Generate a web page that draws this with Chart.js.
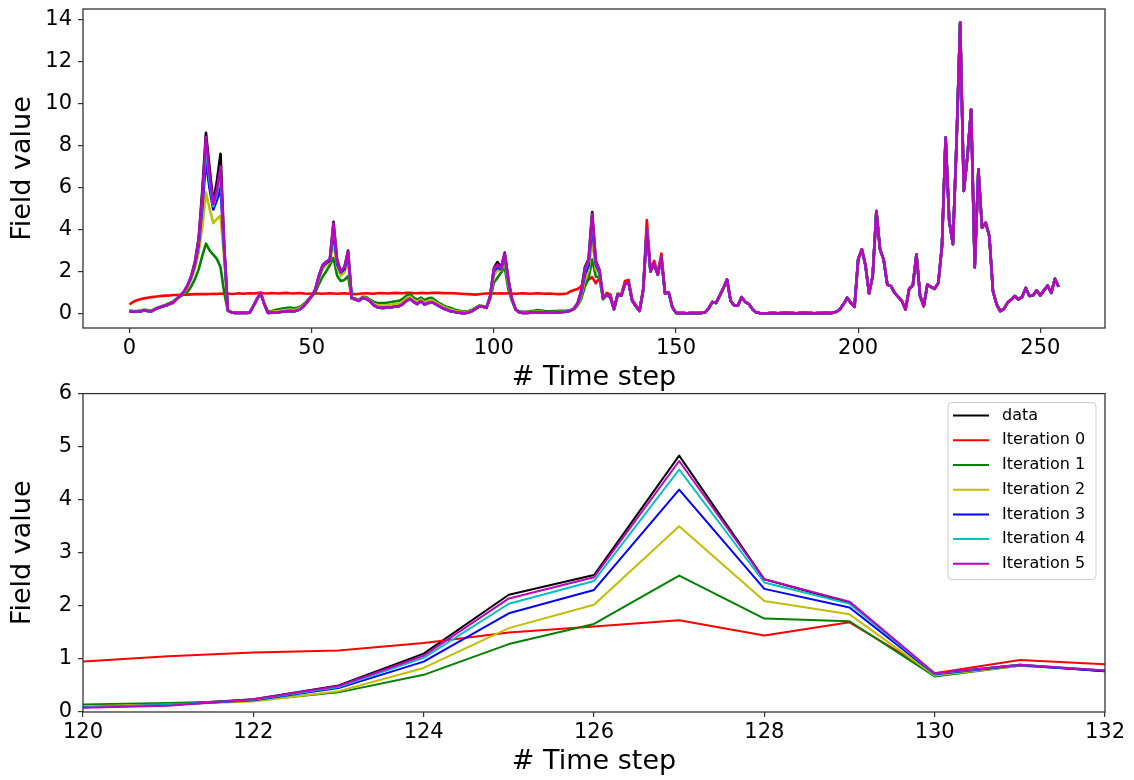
<!DOCTYPE html>
<html><head><meta charset="utf-8">
<script src="https://cdn.jsdelivr.net/npm/chart.js@4.4.1/dist/chart.umd.min.js"></script>
<style>
html,body{margin:0;padding:0;background:#fff;}
#wrap{position:relative;width:1134px;height:780px;overflow:hidden;background:#fff;}
#c1{position:absolute;left:0;top:-10px;}
#c2{position:absolute;left:0;top:375px;}
</style></head><body>
<div id="wrap"><canvas id="c1" width="1134" height="405"></canvas><canvas id="c2" width="1134" height="405"></canvas></div>
<script>
// ---- data: time steps 0..119 (per series) ----
const dataHead = [
0.10,0.08,0.08,0.10,0.15,0.12,0.10,0.20,0.27,0.33,
0.38,0.45,0.52,0.70,0.85,1.05,1.35,1.80,2.50,3.60,
5.90,8.60,6.90,5.30,6.30,7.60,3.30,0.15,0.05,0.03,
0.03,0.03,0.03,0.04,0.35,0.68,0.98,0.45,0.03,0.04,
0.05,0.06,0.08,0.10,0.12,0.10,0.14,0.22,0.38,0.59,
0.83,1.14,1.80,2.30,2.46,2.57,4.36,2.55,2.00,2.20,
3.00,0.74,0.67,0.60,0.75,0.70,0.59,0.40,0.30,0.27,
0.27,0.29,0.30,0.33,0.35,0.45,0.60,0.70,0.55,0.45,
0.59,0.43,0.50,0.54,0.45,0.35,0.25,0.19,0.11,0.08,
0.05,0.03,0.01,0.05,0.11,0.22,0.35,0.32,0.27,0.83,
2.15,2.45,2.20,2.90,1.62,0.67,0.19,0.05,0.03,0.03,
0.04,0.05,0.06,0.05,0.04,0.04,0.05,0.05,0.06,0.07];
const iter0Head = [
0.43,0.55,0.63,0.68,0.72,0.75,0.78,0.80,0.82,0.84,
0.85,0.86,0.88,0.88,0.89,0.90,0.90,0.91,0.92,0.92,
0.93,0.92,0.93,0.94,0.93,0.95,0.94,0.95,0.93,0.94,
0.96,0.94,0.95,0.96,0.95,0.97,0.98,0.96,0.95,0.97,
0.96,0.95,0.97,0.98,0.96,0.95,0.96,0.97,0.95,0.94,
0.95,0.96,0.95,0.94,0.95,0.96,0.95,0.94,0.95,0.96,
0.95,0.93,0.92,0.94,0.95,0.96,0.95,0.94,0.96,0.97,
0.96,0.95,0.97,0.98,0.97,0.96,0.98,0.99,0.97,0.96,
0.98,0.97,0.96,0.98,0.99,0.98,0.97,0.96,0.97,0.96,
0.95,0.94,0.93,0.92,0.91,0.90,0.92,0.94,0.95,0.96,
0.96,0.95,0.96,0.95,0.96,0.95,0.94,0.95,0.96,0.95,
0.94,0.95,0.96,0.95,0.94,0.95,0.94,0.93,0.92,0.93];
const iter1Head = [
0.14,0.12,0.12,0.14,0.18,0.17,0.14,0.22,0.30,0.36,
0.42,0.50,0.58,0.72,0.82,0.92,1.05,1.30,1.65,2.10,
2.75,3.33,3.00,2.80,2.60,2.20,1.00,0.12,0.07,0.05,
0.05,0.05,0.05,0.06,0.36,0.68,0.98,0.48,0.10,0.12,
0.16,0.20,0.24,0.26,0.28,0.25,0.27,0.33,0.47,0.66,
0.80,1.00,1.40,1.75,2.00,2.30,2.65,1.80,1.55,1.60,
1.78,0.70,0.72,0.66,0.80,0.78,0.66,0.56,0.50,0.50,
0.50,0.52,0.55,0.58,0.60,0.70,0.85,0.92,0.76,0.66,
0.76,0.64,0.72,0.75,0.62,0.50,0.40,0.32,0.27,0.20,
0.15,0.12,0.10,0.12,0.18,0.28,0.38,0.36,0.33,0.67,
1.46,1.70,1.95,2.19,1.14,0.59,0.20,0.10,0.08,0.08,
0.10,0.13,0.16,0.14,0.12,0.11,0.12,0.12,0.13,0.13];
const iter2Head = [
0.11,0.10,0.10,0.12,0.16,0.14,0.12,0.21,0.28,0.34,
0.40,0.47,0.55,0.72,0.85,1.00,1.25,1.65,2.15,2.90,
4.10,5.75,5.00,4.30,4.50,4.65,2.60,0.14,0.06,0.04,
0.04,0.04,0.04,0.05,0.35,0.68,0.98,0.46,0.06,0.08,
0.10,0.12,0.15,0.17,0.19,0.17,0.20,0.27,0.42,0.62,
0.84,1.10,1.65,2.10,2.30,2.45,3.40,2.20,1.80,1.95,
2.45,0.72,0.69,0.63,0.78,0.74,0.62,0.47,0.40,0.38,
0.38,0.40,0.42,0.45,0.47,0.57,0.72,0.80,0.65,0.55,
0.67,0.53,0.60,0.64,0.53,0.43,0.33,0.26,0.19,0.14,
0.10,0.08,0.06,0.09,0.15,0.25,0.37,0.34,0.30,0.75,
1.80,2.05,2.05,2.50,1.40,0.63,0.19,0.07,0.05,0.05,
0.06,0.08,0.09,0.08,0.06,0.06,0.07,0.07,0.08,0.09];
const iter3Head = [
0.10,0.08,0.08,0.10,0.15,0.12,0.10,0.20,0.27,0.33,
0.38,0.45,0.52,0.70,0.85,1.05,1.35,1.75,2.35,3.25,
5.10,7.25,5.95,4.95,5.40,6.00,2.95,0.15,0.05,0.03,
0.03,0.03,0.03,0.04,0.35,0.68,0.98,0.45,0.03,0.04,
0.05,0.06,0.08,0.10,0.12,0.10,0.14,0.22,0.38,0.59,
0.83,1.12,1.75,2.25,2.40,2.50,3.90,2.35,1.95,2.10,
2.80,0.74,0.67,0.60,0.75,0.70,0.59,0.40,0.30,0.27,
0.27,0.29,0.30,0.33,0.35,0.45,0.60,0.70,0.55,0.45,
0.59,0.43,0.50,0.54,0.45,0.35,0.25,0.19,0.11,0.08,
0.05,0.03,0.01,0.05,0.11,0.22,0.35,0.32,0.27,0.83,
2.00,2.20,2.10,2.70,1.55,0.66,0.19,0.05,0.03,0.03,
0.04,0.05,0.06,0.05,0.04,0.04,0.05,0.05,0.06,0.07];
const iter4Head = [
0.10,0.08,0.08,0.10,0.15,0.12,0.10,0.20,0.27,0.33,
0.38,0.45,0.52,0.70,0.85,1.05,1.35,1.80,2.45,3.40,
5.45,7.90,6.30,5.10,5.70,6.60,3.10,0.15,0.05,0.03,
0.03,0.03,0.03,0.04,0.35,0.68,0.98,0.45,0.03,0.04,
0.05,0.06,0.08,0.10,0.12,0.10,0.14,0.22,0.38,0.59,
0.83,1.14,1.80,2.30,2.46,2.57,4.15,2.45,2.00,2.20,
2.92,0.74,0.67,0.60,0.75,0.70,0.59,0.40,0.30,0.27,
0.27,0.29,0.30,0.33,0.35,0.45,0.60,0.70,0.55,0.45,
0.59,0.43,0.50,0.54,0.45,0.35,0.25,0.19,0.11,0.08,
0.05,0.03,0.01,0.05,0.11,0.22,0.35,0.32,0.27,0.83,
2.08,2.30,2.15,2.80,1.60,0.67,0.19,0.05,0.03,0.03,
0.04,0.05,0.06,0.05,0.04,0.04,0.05,0.05,0.06,0.07];
const iter5Head = [
0.10,0.08,0.08,0.10,0.15,0.12,0.10,0.20,0.27,0.33,
0.38,0.45,0.52,0.70,0.85,1.05,1.35,1.80,2.45,3.50,
5.60,8.40,6.60,5.20,5.90,7.00,3.20,0.15,0.05,0.03,
0.03,0.03,0.03,0.04,0.35,0.68,0.98,0.45,0.03,0.04,
0.05,0.06,0.08,0.10,0.12,0.10,0.14,0.22,0.38,0.59,
0.83,1.14,1.80,2.30,2.46,2.57,4.30,2.50,2.00,2.20,
2.95,0.74,0.67,0.60,0.75,0.70,0.59,0.40,0.30,0.27,
0.27,0.29,0.30,0.33,0.35,0.45,0.60,0.70,0.55,0.45,
0.59,0.43,0.50,0.54,0.45,0.35,0.25,0.19,0.11,0.08,
0.05,0.03,0.01,0.05,0.11,0.22,0.35,0.32,0.27,0.83,
2.10,2.33,2.17,2.85,1.62,0.67,0.19,0.05,0.03,0.03,
0.04,0.05,0.06,0.05,0.04,0.04,0.05,0.05,0.06,0.07];

// ---- time steps 120..132 (zoomed panel) ----
const dataMid  = [0.10,0.14,0.24,0.50,1.10,2.21,2.58,4.83,2.50,2.06,0.72,0.89,0.77];
const iter0Mid = [0.95,1.05,1.12,1.16,1.30,1.50,1.61,1.73,1.44,1.69,0.73,0.98,0.90];
const iter1Mid = [0.14,0.17,0.21,0.37,0.70,1.28,1.66,2.57,1.76,1.71,0.67,0.87,0.78];
const iter2Mid = [0.11,0.14,0.20,0.39,0.83,1.58,2.02,3.50,2.09,1.84,0.69,0.87,0.78];
const iter3Mid = [0.09,0.13,0.22,0.45,0.95,1.86,2.30,4.19,2.32,1.97,0.71,0.88,0.77];
const iter4Mid = [0.09,0.13,0.23,0.47,1.02,2.04,2.47,4.57,2.44,2.04,0.72,0.89,0.78];
const iter5Mid = [0.08,0.12,0.24,0.49,1.06,2.14,2.54,4.73,2.50,2.08,0.73,0.89,0.78];

// ---- time steps 133..149 ----
const tail133to149      = [0.20,0.90,0.85,1.40,1.45,0.60,0.35,0.12,1.10,4.00,2.00,2.35,1.85,2.65,0.95,1.00,0.30];
const tail133to149Iter0 = [0.25,0.95,0.90,1.55,1.60,0.65,0.40,0.14,1.20,4.45,2.10,2.50,1.95,2.85,1.00,1.02,0.32];
// ---- time steps 150..255 (all series coincide) ----
const tail150to255 = [
0.03,0.02,0.02,0.01,0.02,0.02,0.02,0.03,0.05,0.25,
0.55,0.50,0.85,1.20,1.62,0.60,0.38,0.38,0.78,0.55,
0.45,0.20,0.05,0.02,0.01,0.01,0.02,0.02,0.01,0.02,
0.03,0.02,0.02,0.01,0.02,0.03,0.02,0.02,0.01,0.02,
0.02,0.03,0.02,0.03,0.08,0.20,0.45,0.75,0.50,0.32,
2.57,3.05,2.30,0.95,1.80,4.87,3.05,2.57,1.38,1.30,
0.98,0.79,0.59,0.19,1.17,1.33,2.81,0.83,0.35,1.38,
1.27,1.17,1.46,3.20,8.37,4.40,3.30,8.13,13.84,5.83,
7.49,9.71,2.20,6.86,4.08,4.32,3.68,1.06,0.43,0.11,
0.22,0.51,0.67,0.83,0.67,0.79,1.22,0.83,0.86,1.10,
0.86,1.10,1.33,0.98,1.65,1.27];

const seriesLabels = ['data','Iteration 0','Iteration 1','Iteration 2','Iteration 3','Iteration 4','Iteration 5'];
const seriesColors = ['#000000','#ff0000','#008000','#bfbf00','#0000ff','#00bfbf','#bf00bf'];
const seriesValues = [
  [...dataHead,  ...dataMid,  ...tail133to149,      ...tail150to255],
  [...iter0Head, ...iter0Mid, ...tail133to149Iter0, ...tail150to255],
  [...iter1Head, ...iter1Mid, ...tail133to149,      ...tail150to255],
  [...iter2Head, ...iter2Mid, ...tail133to149,      ...tail150to255],
  [...iter3Head, ...iter3Mid, ...tail133to149,      ...tail150to255],
  [...iter4Head, ...iter4Mid, ...tail133to149,      ...tail150to255],
  [...iter5Head, ...iter5Mid, ...tail133to149,      ...tail150to255]
];

const topXTicks = [0,50,100,150,200,250];
const topYTicks = [0,2,4,6,8,10,12,14];
const zoomXTicks = [120,122,124,126,128,130,132];
const zoomYTicks = [0,1,2,3,4,5,6];
const zoomStart = 120, zoomEnd = 132;
const xTitle = '# Time step';
const yTitle = 'Field value';

const FONT = "'DejaVu Sans', 'Liberation Sans', sans-serif";

const framePlugin = {
  id: 'frame',
  afterDraw(chart) {
    const {ctx, chartArea: a} = chart;
    ctx.save();
    ctx.strokeStyle = '#333';
    ctx.lineWidth = 1.3;
    ctx.strokeRect(a.left, a.top, a.right - a.left, a.bottom - a.top);
    ctx.restore();
  }
};

const boxLegend = {
  id: 'boxLegend',
  afterDraw(chart) {
    const {ctx, chartArea: a} = chart;
    const sets = [...chart.data.datasets].sort((p, q) => p.legendIndex - q.legendIndex);
    const w = 148, rowH = 24.7, h = 177;
    const x0 = a.right - 9 - w, y0 = a.top + 9;
    ctx.save();
    ctx.beginPath();
    if (ctx.roundRect) ctx.roundRect(x0, y0, w, h, 4); else ctx.rect(x0, y0, w, h);
    ctx.fillStyle = 'rgba(255,255,255,0.85)';
    ctx.fill();
    ctx.strokeStyle = '#cccccc';
    ctx.lineWidth = 1;
    ctx.stroke();
    ctx.font = '16px ' + FONT;
    ctx.textBaseline = 'middle';
    ctx.textAlign = 'left';
    sets.forEach((d, i) => {
      const y = y0 + 13 + rowH * i;
      ctx.strokeStyle = d.borderColor;
      ctx.lineWidth = 2;
      ctx.beginPath();
      ctx.moveTo(x0 + 5, y);
      ctx.lineTo(x0 + 41, y);
      ctx.stroke();
      ctx.fillStyle = '#000';
      ctx.fillText(d.label, x0 + 54, y);
    });
    ctx.restore();
  }
};

function makeDatasets(start, end, lw) {
  return seriesValues.map((vals, k) => ({
    label: seriesLabels[k],
    legendIndex: k,
    order: seriesValues.length - 1 - k,
    data: vals.slice(start, end + 1).map((v, i) => ({x: start + i, y: v})),
    borderColor: seriesColors[k],
    backgroundColor: seriesColors[k],
    borderWidth: lw,
    borderJoinStyle: 'round',
    pointRadius: 0,
    tension: 0,
    fill: false
  }));
}

function makeOptions(cfg) {
  const tickFont = {family: FONT, size: 21};
  const titleFont = {family: FONT, size: 27};
  return {
    responsive: false,
    animation: false,
    devicePixelRatio: 1,
    events: [],
    layout: {padding: {left: 7, right: 29, top: cfg.padTop, bottom: 0}},
    plugins: {legend: {display: false}, tooltip: {enabled: false}},
    scales: {
      x: {
        type: 'linear', position: 'bottom', min: cfg.xMin, max: cfg.xMax,
        afterBuildTicks: s => { s.ticks = cfg.xTicks.map(v => ({value: v})); },
        afterFit: s => { s.height = cfg.xAxisH; },
        grid: {display: true, drawOnChartArea: false, drawTicks: true, tickLength: 5, color: '#333', lineWidth: 1.2},
        border: {display: false},
        ticks: {font: tickFont, color: '#000', padding: 3, maxRotation: 0, autoSkip: false},
        title: {display: true, text: xTitle, font: titleFont, color: '#000', padding: {top: 0, bottom: cfg.xTitlePad}}
      },
      y: {
        type: 'linear', position: 'left', min: cfg.yMin, max: cfg.yMax,
        afterBuildTicks: s => { s.ticks = cfg.yTicks.map(v => ({value: v})); },
        afterFit: s => { s.width = 76; },
        grid: {display: true, drawOnChartArea: false, drawTicks: true, tickLength: 5, color: '#333', lineWidth: 1.2},
        border: {display: false},
        ticks: {font: tickFont, color: '#000', padding: 6, autoSkip: false},
        title: {display: true, text: yTitle, font: titleFont, color: '#000', padding: {top: 0, bottom: 0}}
      }
    }
  };
}

new Chart(document.getElementById('c1'), {
  type: 'line',
  data: {datasets: makeDatasets(0, seriesValues[0].length - 1, 2.6)},
  options: makeOptions({xMin: -12.75, xMax: 267.75, yMin: -0.69, yMax: 14.49,
    xTicks: topXTicks, yTicks: topYTicks, padTop: 19, xAxisH: 67, xTitlePad: 1}),
  plugins: [framePlugin]
});

new Chart(document.getElementById('c2'), {
  type: 'line',
  data: {datasets: makeDatasets(zoomStart, zoomEnd, 2)},
  options: makeOptions({xMin: zoomStart, xMax: zoomEnd, yMin: 0, yMax: 6,
    xTicks: zoomXTicks, yTicks: zoomYTicks, padTop: 18, xAxisH: 68, xTitlePad: 2}),
  plugins: [framePlugin, boxLegend]
});
</script>
</body></html>
